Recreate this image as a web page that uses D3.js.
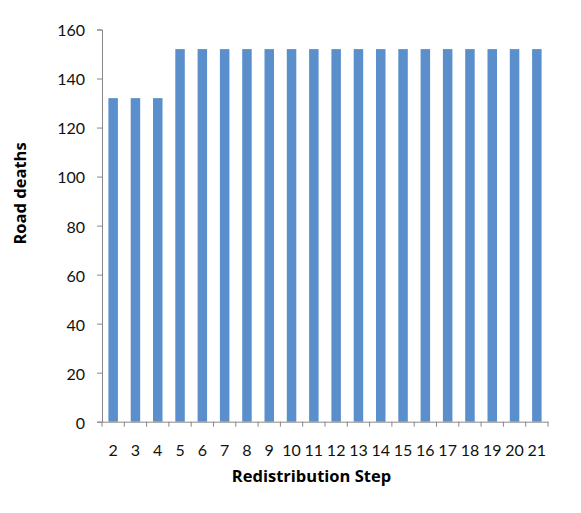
<!DOCTYPE html>
<html><head><meta charset="utf-8">
<script src="https://cdn.jsdelivr.net/npm/d3@7"></script>
<style>body{margin:0;background:#fff}svg{display:block}text{font-family:Lato,"Open Sans",sans-serif}</style>
</head><body><svg id="c" width="581" height="513"></svg>
<script>
const steps = ["2","3","4","5","6","7","8","9","10","11","12","13","14","15","16","17","18","19","20","21"];
const deaths = [132,132,132,152,152,152,152,152,152,152,152,152,152,152,152,152,152,152,152,152];
const yTicks = [0,20,40,60,80,100,120,140,160];

const svg = d3.select("#c");
const m = {l:102, r:548, t:29.5, b:421.7};
const x = d3.scaleBand().domain(steps).range([m.l, m.r]).paddingInner(0).paddingOuter(0);
const y = d3.scaleLinear().domain([0,160]).range([m.b, m.t]);
const axisColor = "#888";

const bw = 9.5;
svg.append("g").selectAll("rect").data(deaths).join("rect")
  .attr("x",(d,i)=>x(steps[i])+x.bandwidth()/2-bw/2)
  .attr("width",bw)
  .attr("y",d=>y(d))
  .attr("height",d=>y(0)-y(d))
  .attr("fill","#5b8fcb");

// y axis
const ya = svg.append("g").attr("transform",`translate(${m.l},0)`)
  .call(d3.axisLeft(y).tickValues(yTicks).tickSize(5).tickPadding(12));
ya.select(".domain").attr("stroke",axisColor);
ya.selectAll(".tick line").attr("stroke",axisColor);
ya.selectAll("text").attr("font-size",16).attr("fill","#111").attr("dy","0.4em");

// x axis
const xa = svg.append("g").attr("transform",`translate(0,${m.b})`)
  .call(d3.axisBottom(x).tickSize(0).tickPadding(23));
xa.select(".domain").attr("stroke",axisColor);
xa.selectAll(".tick line").remove();
xa.selectAll("text").attr("font-size",16).attr("fill","#111");
// boundary ticks
const bounds = steps.map(s=>x(s)).concat([m.r]);
svg.append("g").selectAll("line").data(bounds).join("line")
  .attr("x1",d=>d).attr("x2",d=>d).attr("y1",m.b).attr("y2",m.b+5)
  .attr("stroke",axisColor);

svg.append("text").attr("x",311.5).attr("y",482).attr("text-anchor","middle")
  .style("font-family","'Open Sans',sans-serif")
  .attr("font-size",16.5).attr("font-weight","bold").text("Redistribution Step");
svg.append("text").attr("transform",`translate(26,193.5) rotate(-90)`)
  .style("font-family","'Open Sans',sans-serif")
  .attr("text-anchor","middle").attr("font-size",16.5).attr("font-weight","bold").text("Road deaths");
</script></body></html>
